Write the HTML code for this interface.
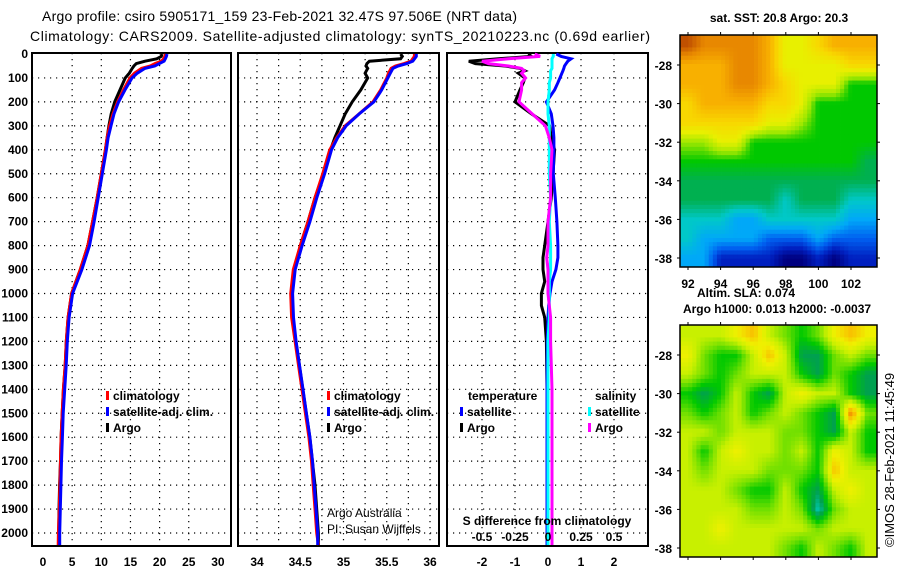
<!DOCTYPE html>
<html><head><meta charset="utf-8"><style>
html,body{margin:0;padding:0;background:#fff;}
svg{display:block;font-family:"Liberation Sans",sans-serif;}
.b{font-weight:bold;font-size:12px;}
</style></head><body>
<svg id="chart" width="900" height="580" viewBox="0 0 900 580"></svg>
<script>
// ---------- data ----------
const depthLevels=[0,10,20,30,40,50,60,80,100,150,200,250,300,350,400,500,600,700,800,900,1000,1100,1200,1300,1400,1500,1600,1700,1800,1900,2000,2050];
const tempClim=[21.0,20.9,20.7,20.3,19.2,18.4,16.9,15.7,14.9,13.8,12.8,12.0,11.4,11.0,10.7,10.0,9.3,8.5,7.7,6.4,4.9,4.3,4.0,3.8,3.5,3.3,3.1,3.0,2.9,2.8,2.65,2.6];
const tempSat=[21.1,21.0,20.8,20.6,19.8,19.0,17.3,16.0,15.1,13.9,12.8,12.0,11.5,11.0,10.7,10.0,9.3,8.6,7.8,6.5,4.9,4.3,4.0,3.8,3.55,3.3,3.15,3.0,2.9,2.8,2.7,2.7];
const tempArgo=[20.4,20.3,19.5,17.5,16.0,15.6,15.3,14.8,14.1,13.2,12.3,11.7,11.3,11.0,10.7,10.0,9.3,8.5,7.7,6.4,4.9,4.3,4.0,3.8,3.5,3.3,3.1,3.0,2.85,2.75,2.7,2.7];
const salClim=[35.82,35.82,35.8,35.78,35.7,35.6,35.55,35.52,35.5,35.43,35.34,35.18,35.02,34.92,34.84,34.76,34.67,34.59,34.5,34.42,34.39,34.40,34.44,34.48,34.52,34.56,34.6,34.63,34.65,34.67,34.69,34.71];
const salSat=[35.83,35.83,35.81,35.79,35.72,35.62,35.56,35.53,35.5,35.43,35.34,35.17,35.02,34.92,34.85,34.77,34.68,34.6,34.51,34.43,34.40,34.41,34.44,34.48,34.52,34.56,34.6,34.63,34.65,34.67,34.69,34.69];
const salArgo=[35.66,35.68,35.66,35.3,35.27,35.26,35.28,35.25,35.28,35.2,35.1,35.02,34.96,34.9,34.85,34.77,34.67,34.59,34.5,34.43,34.40,34.41,34.45,34.49,34.53,34.57,34.61,34.64,34.67,34.69,34.71,34.71];
const diffDepths=[0,10,20,30,40,50,60,70,80,100,120,150,200,250,300,350,400,500,600,700,800,850,900,950,1000,1050,1100,1200,1400,1600,1800,2000,2050];
const dTArgo=[-0.6,-0.5,-1.5,-2.4,-2.2,-1.3,-0.85,-0.7,-0.9,-0.7,-0.75,-0.85,-1.0,-0.5,0.05,0.1,0.2,0.15,0.1,0.0,-0.1,-0.15,-0.15,-0.1,-0.2,-0.2,-0.1,-0.05,-0.03,-0.03,-0.03,-0.03,-0.03];
const dTSat=[0.25,0.4,0.7,0.6,0.55,0.5,0.48,0.45,0.42,0.36,0.3,0.2,-0.05,0.1,0.15,0.18,0.18,0.16,0.22,0.27,0.3,0.3,0.24,0.12,0.06,0.02,0.0,-0.02,-0.03,-0.03,-0.03,-0.03,-0.03];
const dSArgo=[-0.1,-0.06,-0.3,-0.5,-0.45,-0.3,-0.2,-0.18,-0.2,-0.17,-0.2,-0.2,-0.22,-0.12,-0.02,0.01,0.03,0.02,0.02,0.0,0.0,-0.01,0.0,0.0,0.0,0.01,0.02,0.02,0.03,0.03,0.03,0.03,0.03];
const dSSat=[0.04,0.04,0.03,0.03,0.03,0.03,0.03,0.02,0.02,0.02,0.01,0.01,0.0,0.0,0.01,0.01,0.01,0.01,0.02,0.01,0.02,0.02,0.02,0.01,0.01,0.01,0.01,0.0,0.0,0.0,0.0,0.0,0.0];
const depthTicks=[0,100,200,300,400,500,600,700,800,900,1000,1100,1200,1300,1400,1500,1600,1700,1800,1900,2000];
const tempTicks=[0,5,10,15,20,25,30];
const salTicks=[34,34.5,35,35.5,36];
const dTTicks=[-2,-1,0,1,2];
const dSTicks=[-0.5,-0.25,0,0.25,0.5];
// SST map grid (colour levels 0..12), rows lat -27..-38, cols lon 92..103
const sstGrid=[
[12,11,11,11,11,10,8,8,9,10,10,10],
[10,10,10,11,11,10,8,8,8,8,9,9],
[10,10,10,11,11,10,9,8,8,8,6,6],
[9,10,10,10,10,9,9,8,6,6,6,6],
[9,9,9,9,9,8,8,7,6,6,6,6],
[7,7,8,8,6,6,6,6,6,6,6,6],
[6,6,6,6,6,6,6,6,6,6,6,5],
[5,5,5,5,5,5,5,5,5,5,5,5],
[5,5,5,5,5,5,4,5,5,5,4,4],
[4,4,4,3,3,4,4,4,4,4,3,3],
[4,3,3,3,3,2,2,2,3,2,2,2],
[3,3,1,1,1,1,0,0,1,0,1,1]];
const slaGrid=[
[4,4,4,5,6,4,3,2,3,5,6,5],
[5,3,2,2,4,6,4,1,1,3,4,3],
[4,3,2,3,4,4,4,2,1,3,2,1],
[2,1,2,4,2,1,4,5,4,4,2,1],
[3,2,3,4,2,3,4,3,2,1,7,3],
[4,4,3,4,4,4,3,3,2,1,4,2],
[4,2,4,5,4,4,3,4,2,5,4,2],
[4,3,4,4,4,3,3,3,2,6,4,4],
[4,4,4,3,2,2,4,2,1,4,5,4],
[4,4,4,4,3,3,4,3,0,3,4,4],
[4,4,5,4,4,4,4,4,3,4,4,4],
[4,4,4,4,4,4,3,2,4,3,2,4]];
const lonTicks=[92,94,96,98,100,102];
const latTicks=[-28,-30,-32,-34,-36,-38];
// ---------- drawing ----------
const NS='http://www.w3.org/2000/svg';
const svg=document.getElementById('chart');
function el(tag,attrs,parent){const e=document.createElementNS(NS,tag);for(const k in attrs)e.setAttribute(k,attrs[k]);(parent||svg).appendChild(e);return e;}
function txt(s,x,y,cls,anchor,parent){const t=el('text',{x:x,y:y,'text-anchor':anchor||'start'},parent);if(cls)t.setAttribute('class',cls);t.textContent=s;return t;}
const yD=d=>54+d*0.2395;
const TOP=53,BOT=546;
const panels=[
 {name:'temperature-panel',x0:32,x1:231,fx:v=>43+v*5.83},
 {name:'salinity-panel',x0:238,x1:439,fx:v=>257+(v-34)*86.5},
 {name:'difference-panel',x0:447,x1:648,fx:v=>548+v*33}
];
const xS3=v=>548+v*132;
panels.forEach((p,i)=>{
 const g=el('g',{});
 
 
 depthTicks.forEach(d=>{ if(d>0) el('line',{x1:p.x0,x2:p.x1,y1:yD(d),y2:yD(d),stroke:'#000','stroke-width':1.2,'stroke-dasharray':'1.2 4.8'},g);});
 let vg=i==0?[5,10,15,20,25]:i==1?[34,34.25,34.5,34.75,35,35.25,35.5,35.75,36]:[-2,-1,0,1,2];
 vg.forEach(v=>el('line',{x1:p.fx(v),x2:p.fx(v),y1:TOP,y2:BOT,stroke:'#000','stroke-width':1.2,'stroke-dasharray':'1.2 4.8'},g));
 el('rect',{x:p.x0,y:TOP,width:p.x1-p.x0,height:BOT-TOP,fill:'none',stroke:'#000','stroke-width':2},g);
});
function line(xs,ds,fx,color,w,name,parent){
 const pts=xs.map((v,k)=>fx(v).toFixed(1)+','+yD(ds[k]).toFixed(1)).join(' ');
 const pl=el('polyline',{points:pts,fill:'none',stroke:color,'stroke-width':w,'stroke-linejoin':'miter'},parent);
 
 
}
const f1=panels[0].fx,f2=panels[1].fx,f3=panels[2].fx;
line(tempArgo,depthLevels,f1,'#000',3,'temp-argo-line');
line(tempClim,depthLevels,f1,'#f00',3,'temp-clim-line');
line(tempSat,depthLevels,v=>f1(v)+1,'#00f',3,'temp-sat-line');
line(salArgo,depthLevels,f2,'#000',3,'sal-argo-line');
line(salClim,depthLevels,f2,'#f00',3,'sal-clim-line');
line(salSat,depthLevels,v=>f2(v)+1,'#00f',3,'sal-sat-line');
line(dTArgo,diffDepths,f3,'#000',3,'dT-argo-line');
line(dTSat,diffDepths,f3,'#00f',3,'dT-sat-line');
line(dSSat,diffDepths,xS3,'#0ff',3,'dS-sat-line');
line(dSArgo,diffDepths,xS3,'#f0f',3,'dS-argo-line');
depthTicks.forEach(d=>{const t=txt(String(d),28,yD(d)+4,'b','end');

});
tempTicks.forEach(v=>{const t=txt(String(v),f1(v),566,'b','middle');

});
salTicks.forEach(v=>{const t=txt(String(v),f2(v),566,'b','middle');

});
dTTicks.forEach(v=>{const t=txt(String(v),f3(v),566,'b','middle');

});
txt('S difference from climatology',547,525,'b','middle');
dSTicks.forEach(v=>{const t=txt(String(v),xS3(v),541,'b','middle');

});
function legItem(x,y,color,label,name){const g=el('g',{});
 el('rect',{x:x,y:y-9,width:3,height:9,fill:color},g);txt(label,x+7,y,'b','start',g);}
legItem(106,400,'#f00','climatology','legend-climatology');
legItem(106,416,'#00f','satellite-adj. clim.','legend-satellite-adj');
legItem(106,432,'#000','Argo','legend-argo');
legItem(327,400,'#f00','climatology','legend-sal-climatology');
legItem(327,416,'#00f','satellite-adj. clim.','legend-sal-satellite-adj');
legItem(327,432,'#000','Argo','legend-sal-argo');
txt('temperature',468,400,'b');
legItem(460,416,'#00f','satellite','legend-temp-satellite');
legItem(460,432,'#000','Argo','legend-temp-argo');
txt('salinity',595,400,'b');
legItem(588,416,'#0ff','satellite','legend-sal-satellite');
legItem(588,432,'#f0f','Argo','legend-sal-argo-diff');
txt('Argo Australia',327,517,null).setAttribute('style','font-size:12px');
txt('PI: Susan Wijffels',327,533,null).setAttribute('style','font-size:12px');
const t1=txt('Argo profile: csiro 5905171_159 23-Feb-2021 32.47S 97.506E (NRT data)',42,21,null);
t1.setAttribute('style','font-size:14px');t1.setAttribute('textLength','475');

const t2=txt('Climatology: CARS2009. Satellite-adjusted climatology: synTS_20210223.nc (0.69d earlier)',30,41,null);
t2.setAttribute('style','font-size:14px');t2.setAttribute('textLength','620');

const sstCols=['#000080','#0020c0','#0060f0','#00a8f8','#00c8c8','#00b050','#00c800','#a0e800','#e8f000','#f8d800','#f8b000','#e88800','#c05000'];
const slaCols=['#00c8b0','#00a050','#00c800','#70e000','#c8f000','#f0f000','#f8c000','#f08000'];
function hex(c){return [1,3,5].map(i=>parseInt(c.substr(i,2),16));}
function cmap(cols,v){v=Math.max(0,Math.min(cols.length-1,v));const i=Math.min(cols.length-2,Math.floor(v)),f=v-i;const a=hex(cols[i]),b=hex(cols[i+1]);return 'rgb('+a.map((x,k)=>Math.round(x+(b[k]-x)*f)).join(',')+')';}
function drawMap(grid,cols,top,name){
 const g=el('g',{});
 const X0=680,X1=877,Y1=top+232,nx=48,ny=56;
 const lonX=l=>688+(l-92)*16.3, latY=a=>top+30+(-28-a)*19.3;
 const R=grid.length,C=grid[0].length;
 for(let j=0;j<ny;j++)for(let i=0;i<nx;i++){
  const px=X0+(i+0.5)*(X1-X0)/nx, py=top+(j+0.5)*(Y1-top)/ny;
  const lon=92+(px-688)/16.3, lat=-28-(py-top-30)/19.3;
  let cx=Math.max(0,Math.min(C-1,lon-92)), cy=Math.max(0,Math.min(R-1,-27-lat));
  const i0=Math.min(C-2,Math.floor(cx)),j0=Math.min(R-2,Math.floor(cy)),fx=cx-i0,fy=cy-j0;
  const v=grid[j0][i0]*(1-fx)*(1-fy)+grid[j0][i0+1]*fx*(1-fy)+grid[j0+1][i0]*(1-fx)*fy+grid[j0+1][i0+1]*fx*fy;
  el('rect',{x:(X0+i*(X1-X0)/nx).toFixed(2),y:(top+j*(Y1-top)/ny).toFixed(2),width:((X1-X0)/nx+0.4).toFixed(2),height:((Y1-top)/ny+0.4).toFixed(2),fill:cmap(cols,v)},g);
 }
 el('rect',{x:X0,y:top,width:X1-X0,height:Y1-top,fill:'none',stroke:'#000','stroke-width':1.5},g);
 lonTicks.forEach(l=>{el('line',{x1:lonX(l),x2:lonX(l),y1:top-3,y2:top,stroke:'#000'},g);el('line',{x1:lonX(l),x2:lonX(l),y1:Y1,y2:Y1+3,stroke:'#000'},g);});
 latTicks.forEach(a=>{el('line',{x1:X0-3,x2:X0,y1:latY(a),y2:latY(a),stroke:'#000'},g);el('line',{x1:X1,x2:X1+3,y1:latY(a),y2:latY(a),stroke:'#000'},g);
  const t=txt(String(a),672,latY(a)+5,'b','end',g);});
 return lonX;
}
const lx=drawMap(sstGrid,sstCols,35,'sst-map');
drawMap(slaGrid,slaCols,325,'sla-map');
lonTicks.forEach(l=>{const t=txt(String(l),lx(l),288,'b','middle');});
txt('sat. SST: 20.8 Argo: 20.3',779,22,'b','middle');
txt('Altim. SLA: 0.074',746,297,'b','middle');
txt('Argo h1000: 0.013 h2000: -0.0037',777,313,'b','middle');
el('line',{x1:648,x2:648,y1:53,y2:295,stroke:'#000','stroke-width':1.5});
const cr=txt('©IMOS 28-Feb-2021 11:45:49',0,0,null);
cr.setAttribute('style','font-size:13px');
cr.setAttribute('transform','translate(894,547) rotate(-90)');

</script>
</body></html>
